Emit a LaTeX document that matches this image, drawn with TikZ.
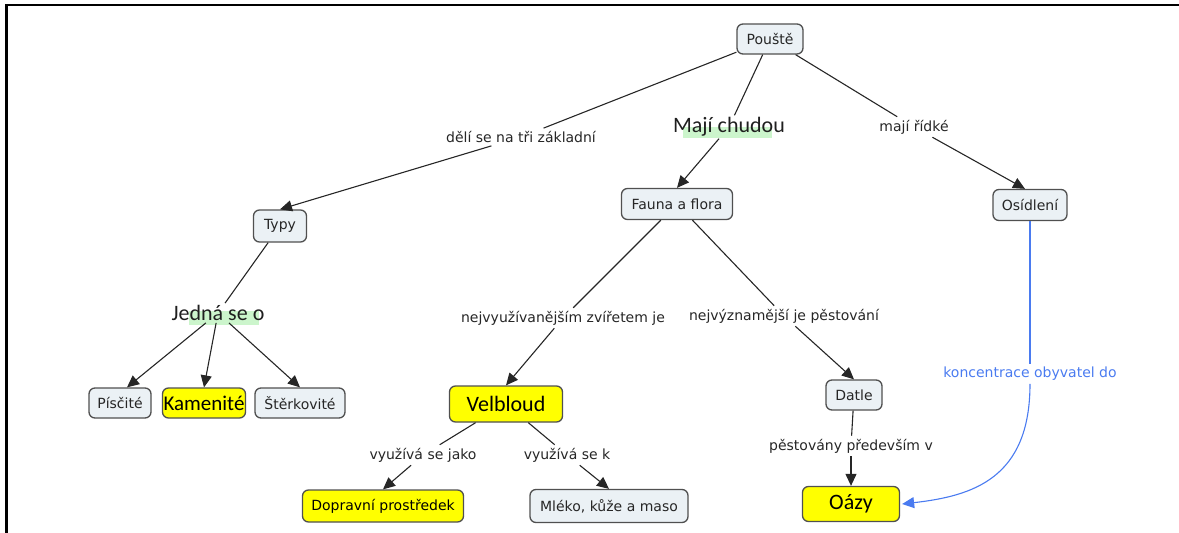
\documentclass[tikz,border=0pt]{standalone}
\usepackage{fontspec}
\setmainfont{DejaVu Sans}
\newfontfamily\bigfont{Carlito}
\usetikzlibrary{arrows.meta,calc}

\definecolor{boxfill}{HTML}{EBF1F5}
\definecolor{boxline}{HTML}{505050}
\definecolor{ink}{HTML}{262626}
\definecolor{linkblue}{HTML}{4A7BF0}
\definecolor{hl}{HTML}{CCF5CC}
\definecolor{keyyellow}{HTML}{FFFF00}

\tikzset{
  concept/.style={draw=boxline, line width=1.3pt, rounded corners=6pt, fill=boxfill,
    text=ink, font=\fontsize{14}{16}\selectfont, inner sep=0pt, align=center},
  keycon/.style={concept, fill=keyyellow, text=black},
  bigtext/.style={font=\bigfont\fontsize{22}{24}\selectfont},
  phrase/.style={text=ink, font=\fontsize{14}{16}\selectfont, inner sep=3pt},
  bigphrase/.style={text=black!88, bigtext, inner sep=2pt},
  link/.style={draw=ink, line width=1.1pt},
  tip/.style={-{Triangle[length=12pt,width=11pt]}},
  arr/.style={link, tip},
  bluelink/.style={draw=linkblue, line width=1.1pt},
}

\begin{document}
\begin{tikzpicture}[x=1pt,y=-1pt]
  \useasboundingbox (0,0) rectangle (1179,533);
  % open frame: left and top rules only
  \draw[line width=2.2pt, black] (6.5,533) -- (6.5,5) -- (1179,5);

  % green highlights behind the large phrases
  \fill[hl] (683,127) rectangle (772,137.5);
  \fill[hl] (189,311) rectangle (259,324.5);

  % concepts
  \node[concept, minimum width=66pt, minimum height=30pt] (poust) at (770,39) {Pouště};
  \node[concept, minimum width=53pt, minimum height=32pt] (typy) at (280,226) {Typy};
  \node[concept, minimum width=111pt, minimum height=31pt] (fauna) at (677,204) {Fauna a flora};
  \node[concept, minimum width=74pt, minimum height=31pt] (osid) at (1030,205) {Osídlení};
  \node[concept, minimum width=62pt, minimum height=30pt] (pisc) at (120,403) {Písčité};
  \node[keycon, minimum width=83pt, minimum height=30pt, font=\bigfont\fontsize{21}{23}\selectfont] (kamen) at (204,403) {Kamenité};
  \node[concept, minimum width=90pt, minimum height=30pt] (sterk) at (300,403) {Štěrkovité};
  \node[keycon, minimum width=113pt, minimum height=36pt, bigtext] (velb) at (506,404) {Velbloud};
  \node[concept, minimum width=56pt, minimum height=30pt] (datle) at (854,395) {Datle};
  \node[keycon, minimum width=161pt, minimum height=32pt] (dopr) at (383,506) {Dopravní prostředek};
  \node[concept, minimum width=158pt, minimum height=33pt] (mleko) at (609,506) {Mléko, kůže a maso};
  \node[keycon, minimum width=97pt, minimum height=35pt, bigtext] (oazy) at (851,504) {Oázy};

  % linking phrases
  \node[phrase] (deli) at (521,137) {dělí se na tři základní};
  \node[bigphrase] (maji) at (729,127) {Mají chudou};
  \node[phrase] (ridke) at (914,127) {mají řídké};
  \node[bigphrase] (jedna) at (218,313) {Jedná se o};
  \node[phrase] (zvire) at (563,318) {nejvyužívanějším zvířetem je};
  \node[phrase] (pestov) at (784,316) {nejvýznamější je pěstování};
  \node[phrase] (jako) at (423,455) {využívá se jako};
  \node[phrase] (kk) at (567,455) {využívá se k};
  \node[phrase] (predev) at (851,446) {pěstovány především v};
  \node[phrase, text=linkblue] (konc) at (1030,374) {koncentrace obyvatel do};

  % connectors
  \draw[link] (poust) -- (deli);
  \draw[arr] (deli) -- (typy.north);
  \draw[link] (poust) -- (maji);
  \draw[arr] (maji) -- (fauna.north);
  \draw[link] (poust) -- (ridke);
  \draw[arr] (ridke) -- ($(osid.north)+(-5,0)$);

  \draw[link] (typy) -- (jedna);
  \draw[arr] (jedna) -- ($(pisc.north)+(7,0)$);
  \draw[arr] (jedna) -- (kamen.north);
  \draw[arr] (jedna) -- (sterk.north);

  \draw[link] (fauna) -- (zvire);
  \draw[arr] (zvire) -- (velb.north);
  \draw[link] (fauna) -- (pestov);
  \draw[arr] (pestov) -- (datle.north);

  \draw[link] (velb) -- (jako);
  \draw[arr] (jako) -- (dopr.north);
  \draw[link] (velb) -- (kk);
  \draw[arr] (kk) -- (mleko.north);

  \draw[link] (datle) -- (predev);
  \draw[arr] (predev) -- (oazy.north);

  \draw[bluelink] (osid) -- (konc);
  \draw[bluelink, tip] (konc.south)
    .. controls +(0,95) and +(70,-8) .. ($(oazy.east)+(2,0)$);
\end{tikzpicture}
\end{document}
